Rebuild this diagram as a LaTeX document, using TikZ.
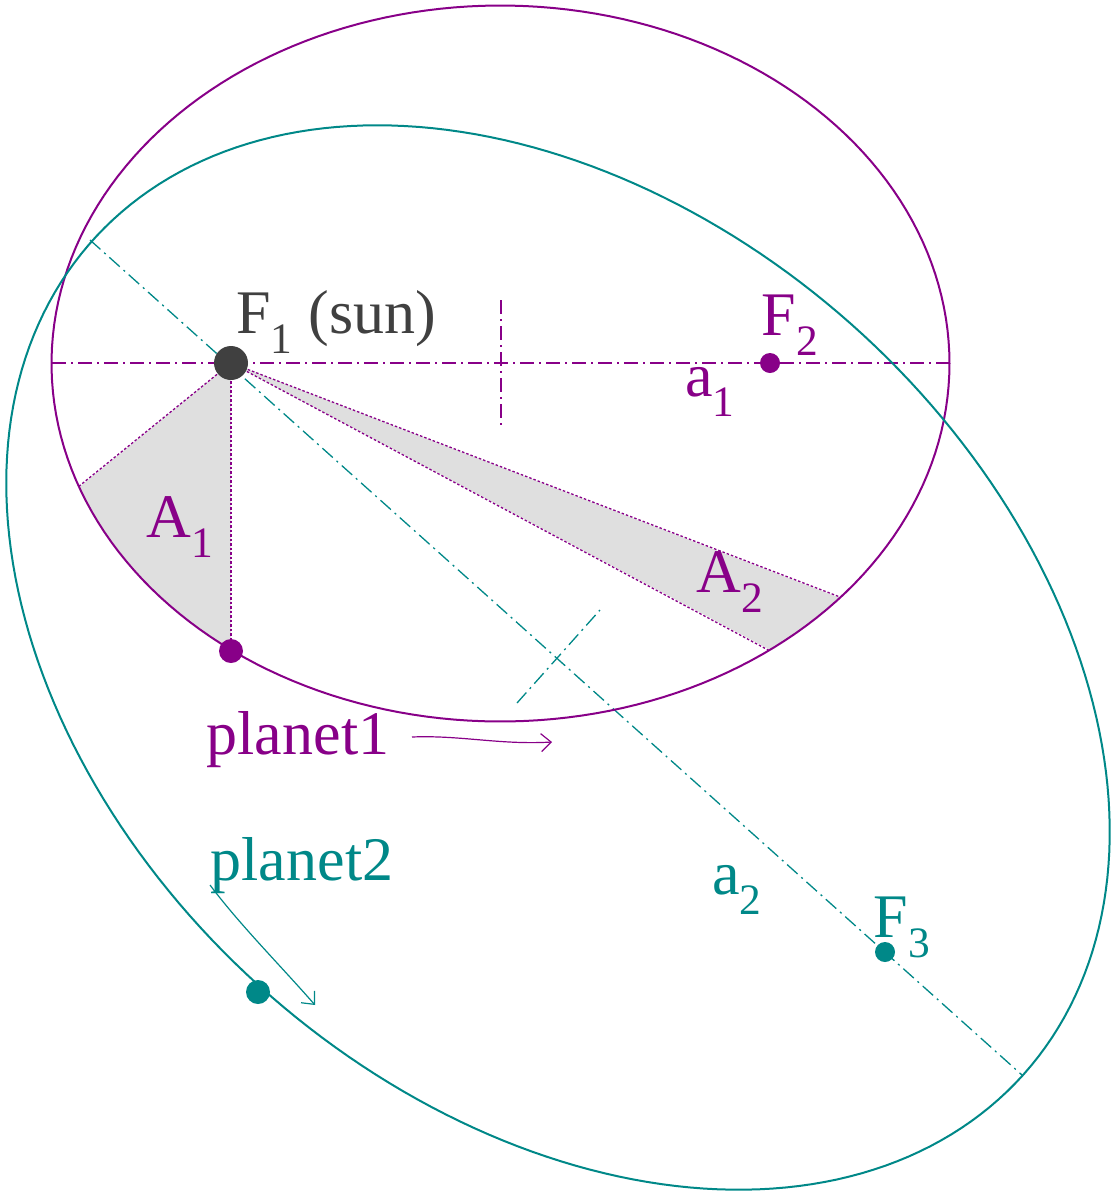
\documentclass[tikz,border=0pt]{standalone}
\usepackage{fontspec}
\setmainfont{Liberation Serif}
\usetikzlibrary{arrows.meta}
\definecolor{pur}{HTML}{880088}
\definecolor{tea}{HTML}{008888}
\definecolor{sun}{HTML}{404040}
\begin{document}
\begin{tikzpicture}[x=1pt,y=-1pt,
  dd/.style={line width=1.3pt,dash pattern=on 14pt off 5pt on 2pt off 5pt},
  dot/.style={line width=1.3pt,dash pattern=on 2.5pt off 2pt,pur},
  lab/.style={font=\fontsize{62}{62}\selectfont,inner sep=0pt},
  orb/.style={line width=2pt}]
\useasboundingbox (0,0) rectangle (1119,1200);
\def\cxa{500.5}\def\cya{363.5}
\def\cxb{558}\def\cyb{657.5}\def\th{41.86}
\coordinate (F1) at (231,363);
\coordinate (F2) at (770,363);
\coordinate (F3) at (885,952);
\coordinate (P1) at (231,651);
\coordinate (P2) at (258,992);
\coordinate (Q1) at (78,487);
\coordinate (Q2) at (770,651);
\coordinate (Q3) at (840,597);
% shaded areas
\fill[gray!25] (F1) -- plot[domain=126.9:159.8,samples=40] ({\cxa+449*cos(\x)},{\cya+358*sin(\x)}) -- cycle;
\fill[gray!25] (F1) -- plot[domain=40.9:53.1,samples=40] ({\cxa+449*cos(\x)},{\cya+358*sin(\x)}) -- cycle;
\draw[dot] (F1) -- (Q1); \draw[dot] (F1) -- (P1);
\draw[dot] (F1) -- (Q2); \draw[dot] (F1) -- (Q3);
% axes
\coordinate (L1) at (52,363); \coordinate (R1) at (950,363);
\coordinate (T1) at (501,300); \coordinate (B1) at (501,425);
\draw[dd,draw=pur] (L1) -- (R1); \draw[dd,draw=pur] (T1) -- (B1);
\coordinate (L2) at (90,240); \coordinate (R2) at (1022,1075);
\coordinate (T2) at (517,703); \coordinate (B2) at (600,610);
\draw[dd,draw=tea] (L2) -- (R2); \draw[dd,draw=tea] (T2) -- (B2);
% orbits
\draw[orb,pur] plot[domain=0:360,samples=200] ({\cxa+449*cos(\x)},{\cya+358*sin(\x)}) -- cycle;
\draw[orb,tea] plot[domain=0:360,samples=240]
 ({\cxb+625*cos(\x)*cos(\th)-444*sin(\x)*sin(\th)},{\cyb+625*cos(\x)*sin(\th)+444*sin(\x)*cos(\th)}) -- cycle;
% points
\fill[sun] (F1) circle (17);
\fill[pur] (F2) circle (10);
\fill[tea] (F3) circle (10);
\fill[pur] (P1) circle (12);
\fill[tea] (P2) circle (12);
% labels
\node[lab,sun] (lsun) at (336,322) {F\textsubscript{1} (sun)};
\node[lab,pur] (lF2) at (790,325) {F\textsubscript{2}};
\node[lab,pur] (la1) at (710,392) {a\textsubscript{1}};
\node[lab,pur] (lA1) at (180,527) {A\textsubscript{1}};
\node[lab,pur] (lA2) at (730,582) {A\textsubscript{2}};
\node[lab,pur] (lp1) at (298,740) {planet1};
\node[lab,tea] (lp2) at (302,866) {planet2};
\node[lab,tea] (la2) at (737,890) {a\textsubscript{2}};
\node[lab,tea] (lF3) at (902,927) {F\textsubscript{3}};
% motion arrows
\coordinate (A1s) at (412,737);
\coordinate (A1e) at (552,742);
\coordinate (A2s) at (210,885);
\coordinate (A2e) at (315,1005);
\draw[pur,line width=1.2pt,-{Straight Barb[length=10pt,width=18pt]}] (A1s) .. controls (460,735) and (500,745) .. (A1e);
\draw[tea,line width=1.2pt,-{Straight Barb[length=10pt,width=18pt]}] (A2s) .. controls (240,925) and (280,965) .. (A2e);
\end{tikzpicture}
\end{document}
